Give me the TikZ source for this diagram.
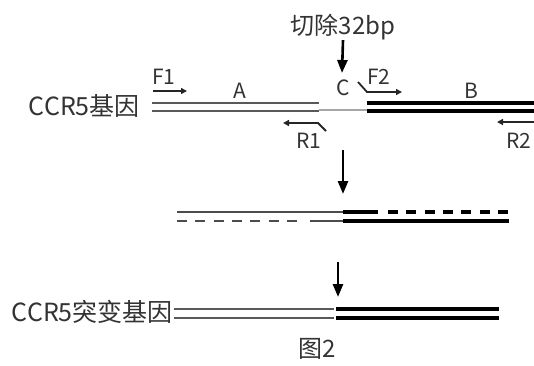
\documentclass[tikz,border=0pt]{standalone}
\usepackage{fontspec}
\setmainfont{Noto Sans CJK SC}
\usetikzlibrary{arrows.meta, positioning}

\tikzset{
  thinstrand/.style={line width=2.5pt, draw=black!65},
  thickstrand/.style={line width=4pt, draw=black},
  cstrand/.style={line width=2.5pt, draw=black!35},
  primer/.style={line width=1.8pt, draw=black!85, -{Triangle[length=6pt,width=6pt]}},
  flow/.style={line width=2.6pt, -{Triangle[length=13pt,width=10pt]}},
  lbl/.style={inner sep=0pt, text=black!80, font=\fontsize{21}{23}\selectfont},
  biglbl/.style={inner sep=0pt, text=black!80, font=\fontsize{25}{27}\selectfont},
}

\begin{document}
\begin{tikzpicture}[x=1pt, y=-1pt]
    \useasboundingbox (0,0) rectangle (534,365);

    % CCR5 gene
    \node[biglbl, anchor=east] (gene) at (140,106) {CCR5基因};
    \draw[thinstrand] (152,103) -- (319,103);
    \draw[thinstrand] (152,111) -- (319,111);
    \draw[cstrand] (319,110) -- (367,110);
    \draw[thickstrand] (367,103) -- (540,103);
    \draw[thickstrand] (367,111) -- (540,111);

    % cut site
    \node[lbl, font=\fontsize{24}{26}\selectfont] (cut) at (343,27) {切除32bp};
    \coordinate (cutend) at (342,73);
    \draw[flow] (cut.south) -- (cutend);

    % segment labels
    \node[lbl] (A) at (240,91) {A};
    \node[lbl] (C) at (343,88) {C};
    \node[lbl] (B) at (471,91) {B};

    % primers
    \node[lbl] (F1) at (164,77) {F1};
    \coordinate (f1s) at (153,91);
    \coordinate (f1e) at (187,91);
    \draw[primer] (f1s) -- (f1e);

    \node[lbl] (F2) at (379,77) {F2};
    \coordinate (f2s) at (358,82);
    \coordinate (f2k) at (367,92);
    \coordinate (f2e) at (402,92);
    \draw[primer] (f2s) -- (f2k) -- (f2e);

    \node[lbl] (R1) at (309,141) {R1};
    \coordinate (r1s) at (326,131);
    \coordinate (r1k) at (318,123);
    \coordinate (r1e) at (283,123);
    \draw[primer] (r1s) -- (r1k) -- (r1e);

    \node[lbl, anchor=west] (R2) at (506,141) {R2};
    \coordinate (r2s) at (536,122);
    \coordinate (r2e) at (497,122);
    \draw[primer] (r2s) -- (r2e);

    % step 1
    \coordinate (s1a) at (343,150);
    \coordinate (s1b) at (343,194);
    \draw[flow] (s1a) -- (s1b);

    % PCR products
    \draw[line width=2.5pt, draw=black!70] (177,212) -- (343,212);
    \draw[line width=4pt] (343,212) -- (378,212);
    \draw[line width=4pt, dash pattern=on 10pt off 8.3pt] (388,212) -- (509,212);
    \draw[line width=2.5pt, draw=black!70, dash pattern=on 10pt off 8.3pt] (177,221) -- (299,221);
    \draw[line width=2.5pt, draw=black!70] (310,221) -- (343,221);
    \draw[line width=4pt] (343,221) -- (509,221);

    % step 2
    \coordinate (s2a) at (338,262);
    \coordinate (s2b) at (338,297);
    \draw[flow] (s2a) -- (s2b);

    % mutant gene
    \node[biglbl, anchor=east] (mut) at (173,312) {CCR5突变基因};
    \draw[thinstrand] (174,309) -- (334,309);
    \draw[thinstrand] (174,318) -- (334,318);
    \draw[thickstrand] (336,309) -- (499,309);
    \draw[thickstrand] (336,318) -- (499,318);

    \node[biglbl, font=\fontsize{24}{26}\selectfont] (fig) at (317,349) {图2};
\end{tikzpicture}
\end{document}
